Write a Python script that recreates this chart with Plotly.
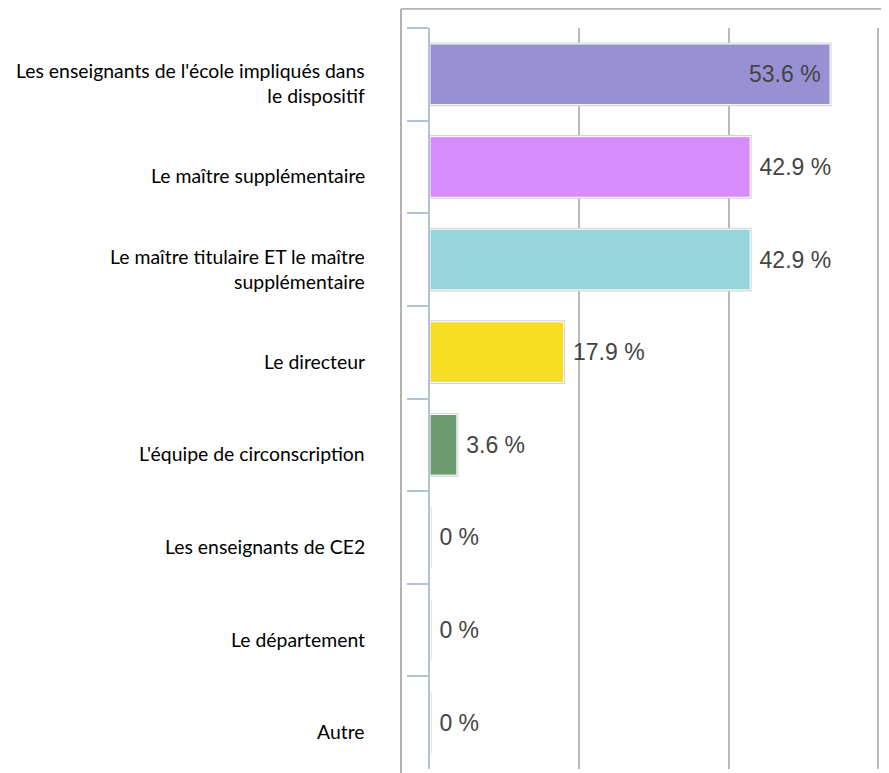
import plotly.graph_objects as go

categories = [
    "Les enseignants de l'école impliqués dans<br>le dispositif",
    "Le maître supplémentaire",
    "Le maître titulaire ET le maître<br>supplémentaire",
    "Le directeur",
    "L'équipe de circonscription",
    "Les enseignants de CE2",
    "Le département",
    "Autre",
]
values = [53.6, 42.9, 42.9, 17.9, 3.6, 0, 0, 0]
colors = ["#9791d4", "#d78cfb", "#96d5dc", "#f6dd24", "#6c9b6f", "#cccccc", "#cccccc", "#cccccc"]
text_pos = ["inside", "outside", "outside", "outside", "outside", "outside", "outside", "outside"]
text_tpl = ["%{x} % "] + [" %{x} %"] * 7
x_ticks = [0, 20, 40, 60]

fig = go.Figure()
# outer light-gray outline
fig.add_trace(go.Bar(
    y=categories, x=values, orientation="h", width=0.655,
    marker=dict(color=colors, line=dict(color="#d2d2d2", width=3)),
    hoverinfo="skip", showlegend=False,
))
# main bars with white inner edge and labels
fig.add_trace(go.Bar(
    y=categories, x=values, orientation="h", width=0.655,
    marker=dict(color=colors, line=dict(color="#ffffff", width=1)),
    texttemplate=text_tpl, textposition=text_pos, insidetextanchor="end",
    textfont=dict(family="Liberation Sans, Arial, sans-serif", size=23, color="#444444"),
    cliponaxis=False, showlegend=False,
))

# category labels (slightly lower than the category centres, as in the original)
for cat in categories:
    fig.add_annotation(
        x=0, y=cat, xref="x", yref="y", text=cat, showarrow=False,
        xanchor="right", yanchor="middle", align="right", xshift=-63, yshift=-9,
        font=dict(family="Lato, Carlito, sans-serif", size=19.4, color="#000000"),
    )

fig.update_layout(
    width=881, height=765,
    margin=dict(l=422, r=0, t=20, b=4, autoexpand=False),
    paper_bgcolor="white", plot_bgcolor="white",
    barmode="overlay",
    bargap=0.3,
    xaxis=dict(range=[0, 61.5], tickvals=x_ticks, showticklabels=False, automargin=False,
               showgrid=True, gridcolor="#b9b9b9", gridwidth=2, zeroline=False,
               showline=False, fixedrange=True),
    yaxis=dict(autorange="reversed", type="category", tickson="boundaries", automargin=False,
               ticks="outside", ticklen=21, tickwidth=2, tickcolor="#b3c2d6",
               showline=True, linecolor="#b3c2d6", linewidth=2, showticklabels=False,
               showgrid=False, zeroline=False),
    shapes=[
        dict(type="line", xref="paper", yref="paper", x0=-0.0632, x1=-0.0632, y0=-0.01, y1=1.026,
             line=dict(color="#b3b3b3", width=2)),
        dict(type="line", xref="paper", yref="paper", x0=-0.0632, x1=1.02, y0=1.026, y1=1.026,
             line=dict(color="#b3b3b3", width=2)),
    ],
)

fig.write_html("out.html")
